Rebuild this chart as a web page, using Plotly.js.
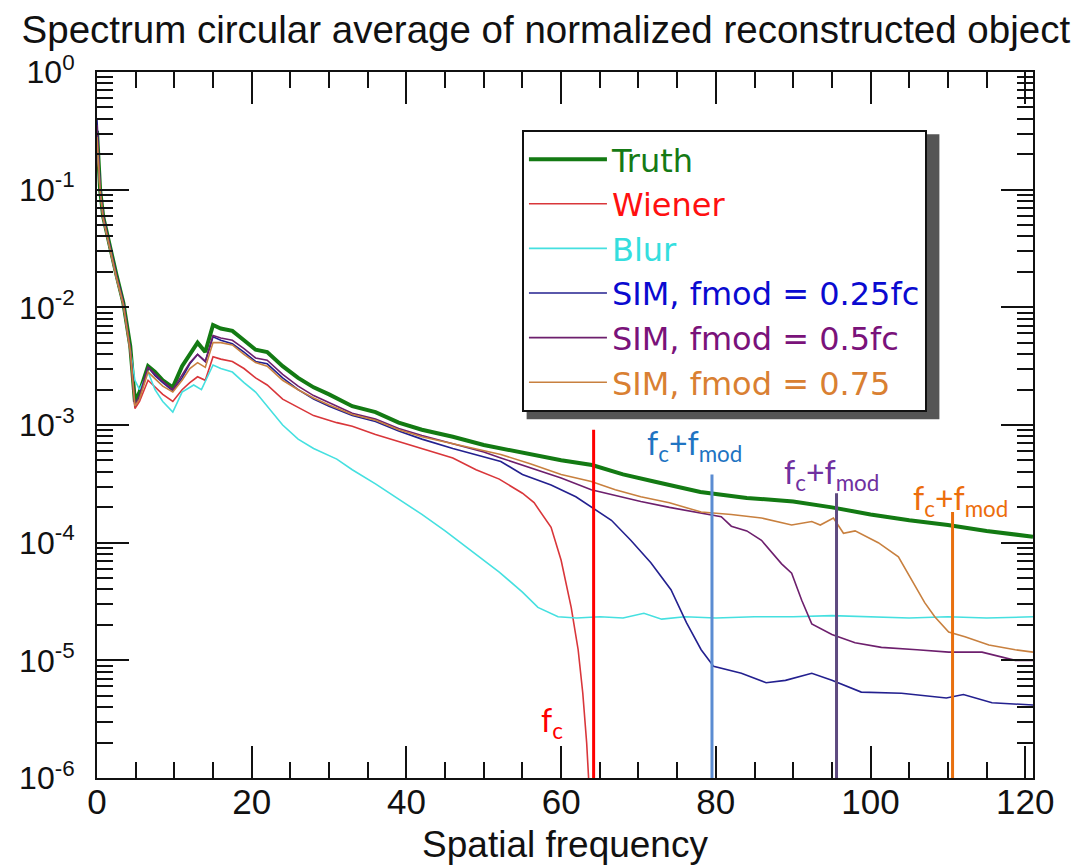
<!DOCTYPE html>
<html><head><meta charset="utf-8">
<script src="https://cdn.plot.ly/plotly-3.0.1.min.js"></script>
<style>html,body{margin:0;padding:0;background:#fff}#chart{width:1083px;height:867px}</style>
</head><body><div id="chart"></div>
<script>
// ---- data (frequency, log10 of spectrum) ----
const TRUTH_F   = [0,0.4,0.8,1.7,2.5,3.4,4.3,4.9,5.5,6.6,7.5,8.5,9.8,11,12,13,14,15,16,17.5,19,20.5,22,24,26,28,30,33,36,39,42,46,50,53,57,60,64,68,72,78,84,90,95,100,105,110,115,121];
const TRUTH_LOG = [-0.5,-1.0,-1.23,-1.51,-1.72,-1.96,-2.33,-2.80,-2.72,-2.50,-2.55,-2.62,-2.68,-2.50,-2.40,-2.30,-2.38,-2.15,-2.18,-2.20,-2.28,-2.36,-2.38,-2.50,-2.60,-2.68,-2.74,-2.84,-2.89,-2.98,-3.04,-3.10,-3.17,-3.21,-3.26,-3.30,-3.34,-3.42,-3.48,-3.57,-3.62,-3.65,-3.70,-3.76,-3.81,-3.85,-3.90,-3.95];

const WIENER_F   = [0,0.4,0.8,1.7,2.5,3.4,4.3,4.9,5.5,6.6,7.5,8.5,9.8,11,12,13,14,15,16,17.5,19,20.5,22,24,26,28,31,33,36,39,42,46,49,52,55,56.5,58.7,60,61.3,62.2,62.8,63.3,63.8];
const WIENER_LOG = [-0.65,-1.0,-1.25,-1.53,-1.75,-1.98,-2.38,-2.86,-2.80,-2.62,-2.68,-2.74,-2.80,-2.70,-2.64,-2.59,-2.62,-2.42,-2.44,-2.46,-2.52,-2.60,-2.66,-2.78,-2.85,-2.92,-2.98,-3.01,-3.08,-3.14,-3.20,-3.28,-3.38,-3.46,-3.58,-3.66,-3.87,-4.15,-4.55,-4.91,-5.28,-5.70,-6.30];

const BLUR_F   = [0,0.4,0.8,1.7,2.5,3.4,4.3,4.9,5.5,6.6,7.5,8.5,9.8,11,12.5,13.5,15,16,17.5,19,20.5,22,24,26,28,31,33,36,39,42,45,48,52,55,57,59.6,62,65,68,70.7,73,76,80,85,90,95,100,105,110,115,121];
const BLUR_LOG = [-0.55,-1.0,-1.24,-1.52,-1.74,-1.97,-2.35,-2.62,-2.70,-2.55,-2.70,-2.80,-2.89,-2.72,-2.66,-2.70,-2.49,-2.52,-2.55,-2.64,-2.72,-2.84,-3.00,-3.12,-3.20,-3.29,-3.38,-3.50,-3.63,-3.76,-3.90,-4.05,-4.25,-4.42,-4.55,-4.63,-4.64,-4.63,-4.64,-4.60,-4.65,-4.63,-4.64,-4.63,-4.63,-4.62,-4.63,-4.64,-4.63,-4.64,-4.63];

const SIM25_F   = [0,0.4,0.8,1.7,2.5,3.4,4.3,4.9,5.5,6.6,7.5,8.5,9.8,11,12,13,14,15,16,17.5,19,20.5,22,24,26,28,30,33,36,39,42,46,50,52.2,55,58.7,61.9,63.9,66.5,69,71.6,74.2,76.2,78.1,79.7,83.3,86.5,89,92.4,95,98.8,104,109.8,112,115.7,121];
const SIM25_LOG = [-0.4,-0.98,-1.22,-1.50,-1.72,-1.95,-2.36,-2.84,-2.76,-2.51,-2.58,-2.64,-2.71,-2.60,-2.48,-2.40,-2.46,-2.25,-2.28,-2.31,-2.38,-2.46,-2.48,-2.60,-2.70,-2.78,-2.84,-2.92,-2.97,-3.05,-3.12,-3.20,-3.27,-3.31,-3.42,-3.51,-3.61,-3.70,-3.81,-3.98,-4.17,-4.40,-4.68,-4.91,-5.05,-5.11,-5.19,-5.17,-5.11,-5.17,-5.27,-5.28,-5.32,-5.29,-5.36,-5.38];

const SIM50_F   = [0,0.4,0.8,1.7,2.5,3.4,4.3,4.9,5.5,6.6,7.5,8.5,9.8,11,12,13,14,15,16,17.5,19,20.5,22,24,26,28,30,33,36,39,42,46,50,52.2,56,60,63.9,67,70.3,74,78.1,80.7,82,84,85.9,88.5,89.8,91.1,92.4,95,98,101.4,106,110.1,114.4,118.7,121];
const SIM50_LOG = [-0.45,-0.99,-1.23,-1.51,-1.73,-1.96,-2.35,-2.83,-2.75,-2.51,-2.57,-2.63,-2.70,-2.58,-2.47,-2.40,-2.46,-2.24,-2.26,-2.28,-2.35,-2.43,-2.45,-2.57,-2.67,-2.75,-2.81,-2.90,-2.95,-3.03,-3.09,-3.16,-3.23,-3.28,-3.36,-3.45,-3.55,-3.60,-3.65,-3.70,-3.75,-3.78,-3.86,-3.90,-3.98,-4.18,-4.26,-4.49,-4.69,-4.78,-4.85,-4.89,-4.91,-4.93,-4.93,-5.0,-5.0];

const SIM75_F   = [0,0.4,0.8,1.7,2.5,3.4,4.3,4.9,5.5,6.6,7.5,8.5,9.8,11,12,13,14,15,16,17.5,19,20.5,22,24,26,28,30,33,36,39,42,46,50,52.2,56,60,63.9,67,70.3,74,78.1,82,85.9,89.8,92.4,93.5,95.2,96.5,98,101,103.6,105.3,107,108.3,110.1,112.2,115.3,118.7,121];
const SIM75_LOG = [-0.55,-1.0,-1.24,-1.52,-1.74,-1.97,-2.37,-2.84,-2.78,-2.55,-2.61,-2.67,-2.72,-2.62,-2.52,-2.47,-2.51,-2.30,-2.30,-2.32,-2.40,-2.47,-2.50,-2.62,-2.70,-2.77,-2.83,-2.91,-2.96,-3.04,-3.10,-3.16,-3.22,-3.25,-3.33,-3.42,-3.48,-3.55,-3.61,-3.66,-3.74,-3.76,-3.79,-3.85,-3.82,-3.85,-3.79,-3.92,-3.90,-4.00,-4.12,-4.32,-4.51,-4.63,-4.76,-4.80,-4.87,-4.91,-4.93];

const SERIES_NAMES = ['Truth','Wiener','Blur','SIM, fmod = 0.25fc','SIM, fmod = 0.5fc','SIM, fmod = 0.75'];

// vertical cut-off markers
const MARKER_F = [64.2, 79.5, 95.6, 110.6];
const MARKER_TOP_LOG = [-3.04, -3.42, -3.58, -3.74];
const MARKER_LABELS = ['f<sub>c</sub>','f<sub>c</sub>+f<sub>mod</sub>','f<sub>c</sub>+f<sub>mod</sub>','f<sub>c</sub>+f<sub>mod</sub>'];
const LABEL_F = [58.8, 77.3, 95.0, 111.6];
const LABEL_LOG = [-5.52, -3.17, -3.42, -3.64];

const X_TICKS = [0,20,40,60,80,100,120];
const Y_TICK_VALUES = [1,0.1,0.01,0.001,0.0001,0.00001,0.000001];
const Y_TICK_TEXT = ['10<sup>0</sup>','10<sup>-1</sup>','10<sup>-2</sup>','10<sup>-3</sup>','10<sup>-4</sup>','10<sup>-5</sup>','10<sup>-6</sup>'];

// ---- styling ----
const LINE_COLORS = ['#137a13','#d9363a','#45e0e0','#23208f','#6d1f6d','#c8803f'];
const TEXT_COLORS = ['#157a15','#ff1010','#35dede','#0a0ad0','#7a127a','#d98032'];
const LINE_WIDTHS = [4,1.6,1.6,1.6,1.6,1.6];
const MARKER_COLORS = ['#ff0000','#5b8cd2','#5e4a80','#e8700e'];
const LABEL_COLORS = ['#ff0000','#1f74c2','#7030a0','#ec6d0c'];
const AXIS_FONT = 'Liberation Sans, Arial, Helvetica, sans-serif';
const LEGEND_FONT = 'DejaVu Sans, Liberation Sans, sans-serif';
const NOTE_FONT = 'Lato, Carlito, Calibri, sans-serif';

const toVal = a => a.map(v => Math.pow(10, v));
const xs = [TRUTH_F, WIENER_F, BLUR_F, SIM25_F, SIM50_F, SIM75_F];
const ys = [TRUTH_LOG, WIENER_LOG, BLUR_LOG, SIM25_LOG, SIM50_LOG, SIM75_LOG];

const traces = xs.map((x, i) => ({
  type: 'scatter', mode: 'lines', x: x, y: toVal(ys[i]),
  name: '<span style="color:' + TEXT_COLORS[i] + '">' + SERIES_NAMES[i] + '</span>',
  line: {color: LINE_COLORS[i], width: LINE_WIDTHS[i]},
  hoverinfo: 'x+y'
}));
MARKER_F.forEach((f, i) => traces.push({
  type: 'scatter', mode: 'lines', x: [f, f], y: [1e-6, Math.pow(10, MARKER_TOP_LOG[i])],
  line: {color: MARKER_COLORS[i], width: 3}, showlegend: false, hoverinfo: 'skip'
}));

const minorY = [];
for (let e = -6; e < 0; e++) for (let m = 2; m <= 9; m++) minorY.push(m * Math.pow(10, e));

const annotations = MARKER_LABELS.map((t, i) => ({
  x: LABEL_F[i], y: LABEL_LOG[i], xref: 'x', yref: 'y', text: t, showarrow: false,
  xanchor: 'center', yanchor: 'middle',
  font: {family: NOTE_FONT, size: 32, color: LABEL_COLORS[i]}
}));

const layout = {
  width: 1083, height: 867,
  margin: {l: 97, r: 50, t: 72, b: 89, pad: 0},
  paper_bgcolor: '#ffffff', plot_bgcolor: '#ffffff',
  font: {family: AXIS_FONT, color: '#111111'},
  title: {text: 'Spectrum circular average of normalized reconstructed object',
    x: 0.504, xanchor: 'center', y: 0.966, yanchor: 'middle', yref: 'container',
    font: {family: AXIS_FONT, size: 38.5, color: '#111111'}},
  xaxis: {
    range: [0, 121], tickmode: 'array', tickvals: X_TICKS,
    ticks: 'inside', ticklen: 32, tickwidth: 2, tickcolor: '#111',
    showline: true, linecolor: '#111', linewidth: 2, mirror: 'allticks',
    showgrid: false, zeroline: false,
    ticklabelstandoff: -8,
    tickfont: {family: AXIS_FONT, size: 35, color: '#111'},
    minor: {dtick: 5, tick0: 0, ticks: 'inside', ticklen: 16, tickwidth: 2, tickcolor: '#111', showgrid: false},
    title: {text: 'Spatial frequency', font: {family: AXIS_FONT, size: 37, color: '#111'}, standoff: 11}
  },
  yaxis: {
    type: 'log', range: [-6, 0], tickmode: 'array', tickvals: Y_TICK_VALUES, ticktext: Y_TICK_TEXT,
    ticks: 'inside', ticklen: 32, tickwidth: 2, tickcolor: '#111',
    showline: true, linecolor: '#111', linewidth: 2, mirror: 'allticks',
    showgrid: false, zeroline: false,
    ticklabelstandoff: 14,
    tickfont: {family: AXIS_FONT, size: 32, color: '#111'},
    minor: {tickmode: 'array', tickvals: minorY, ticks: 'inside', ticklen: 16, tickwidth: 2, tickcolor: '#111', showgrid: false}
  },
  showlegend: true,
  legend: {x: 0.454, y: 0.918, xanchor: 'left', yanchor: 'top',
    bgcolor: '#ffffff', bordercolor: '#111', borderwidth: 2,
    font: {family: LEGEND_FONT, size: 32, color: '#111'}, itemwidth: 78, tracegroupgap: 0},
  shapes: [{type: 'rect', xref: 'paper', yref: 'paper', layer: 'above',
    x0: 0.459, x1: 0.9, y0: 0.508, y1: 0.912, line: {width: 0}, fillcolor: '#555555'}],
  annotations: annotations
};

Plotly.newPlot('chart', traces, layout, {displayModeBar: false, staticPlot: true});
</script>
</body></html>
